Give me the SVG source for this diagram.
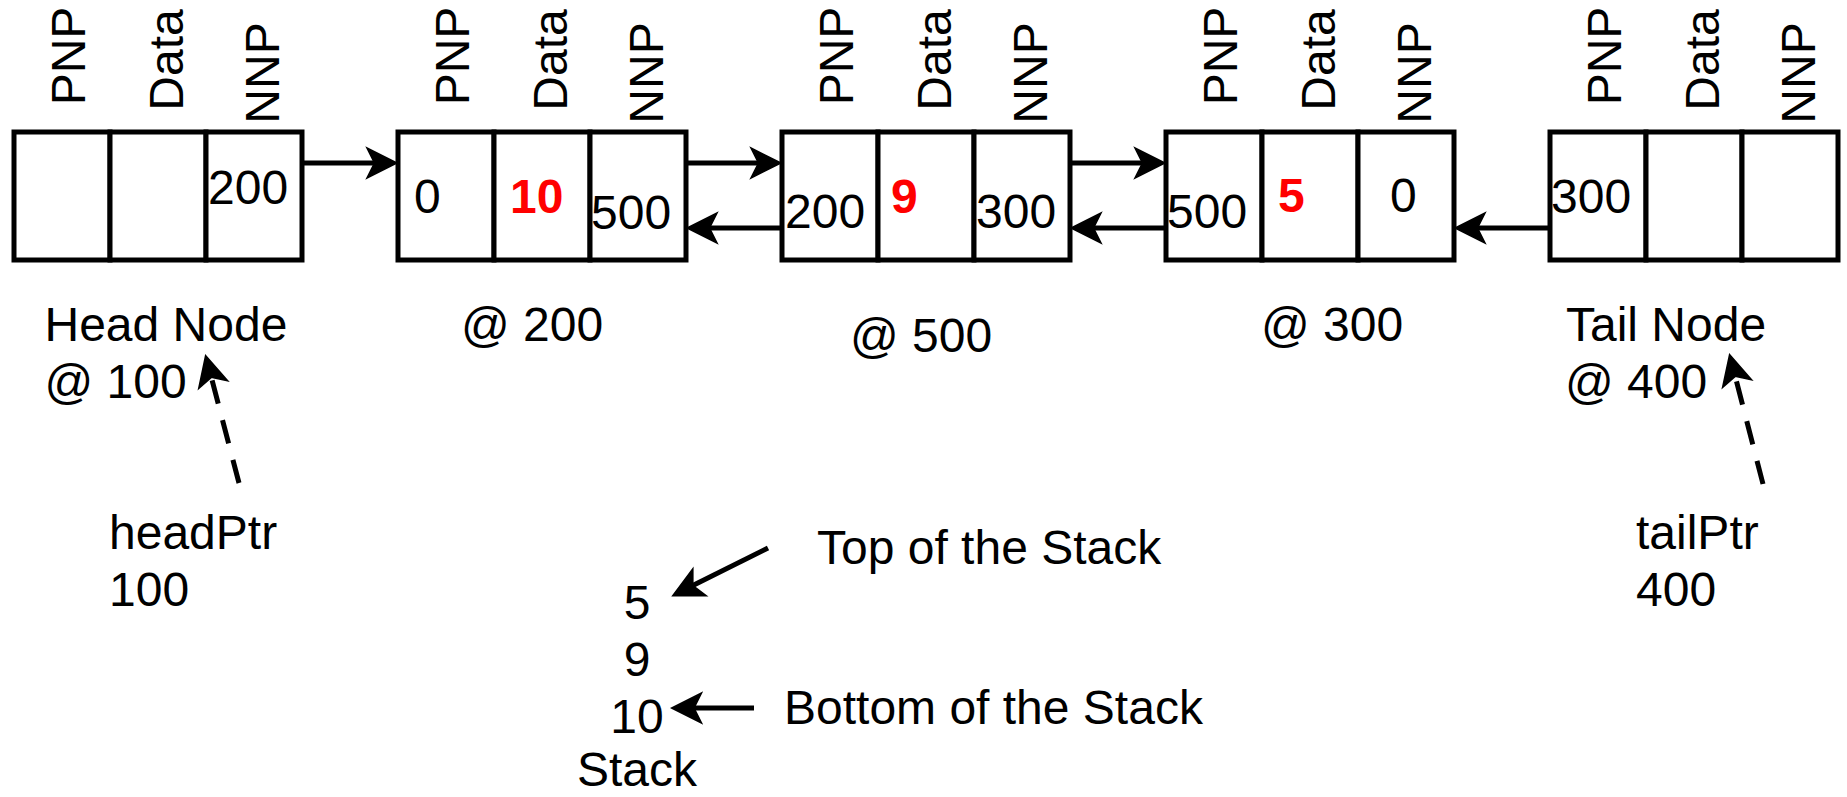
<svg xmlns="http://www.w3.org/2000/svg" width="1847" height="797" viewBox="0 0 1847 797">
  <style>
    text { font-family: "Liberation Sans", Arial, Helvetica, sans-serif; font-size: 48px; fill: #000000; }
    .val { fill: #FF0000; font-weight: bold; }
    .cell { fill: #FFFFFF; stroke: #000000; stroke-width: 5; }
    .edge { fill: none; stroke: #000000; stroke-width: 5; }
    .dash { stroke-dasharray: 24 17; }
  </style>
  <defs>
    <marker id="arrow" markerUnits="userSpaceOnUse" markerWidth="34" markerHeight="34" viewBox="-30 -16 32 32" refX="-21" refY="0" orient="auto">
      <path d="M0,0 L-28,-14 L-21,0 L-28,14 Z" fill="#000000" stroke="#000000" stroke-width="1.5" stroke-linejoin="miter"/>
    </marker>
  </defs>
  <rect width="1847" height="797" fill="#FFFFFF"/>

  <g id="node-head">
    <rect class="cell" x="14" y="132" width="96" height="128"/>
    <rect class="cell" x="110" y="132" width="96" height="128"/>
    <rect class="cell" x="206" y="132" width="96" height="128"/>
    <text transform="translate(85,56) rotate(-90)" text-anchor="middle">PNP</text>
    <text transform="translate(183,60) rotate(-90)" text-anchor="middle">Data</text>
    <text transform="translate(279,73) rotate(-90)" text-anchor="middle">NNP</text>
    <text x="208" y="204">200</text>
  </g>

  <g id="node-200">
    <rect class="cell" x="398" y="132" width="96" height="128"/>
    <rect class="cell" x="494" y="132" width="96" height="128"/>
    <rect class="cell" x="590" y="132" width="96" height="128"/>
    <text transform="translate(469,56) rotate(-90)" text-anchor="middle">PNP</text>
    <text transform="translate(567,60) rotate(-90)" text-anchor="middle">Data</text>
    <text transform="translate(663,73) rotate(-90)" text-anchor="middle">NNP</text>
    <text x="414" y="213">0</text>
    <text class="val" x="510" y="213">10</text>
    <text x="591" y="229">500</text>
  </g>

  <g id="node-500">
    <rect class="cell" x="782" y="132" width="96" height="128"/>
    <rect class="cell" x="878" y="132" width="96" height="128"/>
    <rect class="cell" x="974" y="132" width="96" height="128"/>
    <text transform="translate(853,56) rotate(-90)" text-anchor="middle">PNP</text>
    <text transform="translate(951,60) rotate(-90)" text-anchor="middle">Data</text>
    <text transform="translate(1047,73) rotate(-90)" text-anchor="middle">NNP</text>
    <text x="785" y="228">200</text>
    <text class="val" x="891" y="213">9</text>
    <text x="976" y="228">300</text>
  </g>

  <g id="node-300">
    <rect class="cell" x="1166" y="132" width="96" height="128"/>
    <rect class="cell" x="1262" y="132" width="96" height="128"/>
    <rect class="cell" x="1358" y="132" width="96" height="128"/>
    <text transform="translate(1237,56) rotate(-90)" text-anchor="middle">PNP</text>
    <text transform="translate(1335,60) rotate(-90)" text-anchor="middle">Data</text>
    <text transform="translate(1431,73) rotate(-90)" text-anchor="middle">NNP</text>
    <text x="1167" y="228">500</text>
    <text class="val" x="1278" y="212">5</text>
    <text x="1390" y="212">0</text>
  </g>

  <g id="node-tail">
    <rect class="cell" x="1550" y="132" width="96" height="128"/>
    <rect class="cell" x="1646" y="132" width="96" height="128"/>
    <rect class="cell" x="1742" y="132" width="96" height="128"/>
    <text transform="translate(1621,56) rotate(-90)" text-anchor="middle">PNP</text>
    <text transform="translate(1719,60) rotate(-90)" text-anchor="middle">Data</text>
    <text transform="translate(1815,73) rotate(-90)" text-anchor="middle">NNP</text>
    <text x="1551" y="213">300</text>
  </g>

  <g id="label-head">
    <text x="44.5" y="341">Head Node</text>
    <text x="44.5" y="398">@ 100</text>
  </g>
  <g id="label-200"><text x="461" y="341">@ 200</text></g>
  <g id="label-500"><text x="850" y="352">@ 500</text></g>
  <g id="label-300"><text x="1261" y="341">@ 300</text></g>
  <g id="label-tail">
    <text x="1566" y="341">Tail Node</text>
    <text x="1565" y="398">@ 400</text>
  </g>

  <g id="head-ptr">
    <text x="109" y="549">headPtr</text>
    <text x="109" y="606">100</text>
  </g>
  <g id="tail-ptr">
    <text x="1636" y="549">tailPtr</text>
    <text x="1636" y="606">400</text>
  </g>

  <g id="stack">
    <text x="637" y="619" text-anchor="middle">5</text>
    <text x="637" y="676" text-anchor="middle">9</text>
    <text x="637" y="733" text-anchor="middle">10</text>
    <text x="637" y="786" text-anchor="middle">Stack</text>
  </g>
  <g id="label-top"><text x="817" y="564">Top of the Stack</text></g>
  <g id="label-bottom"><text x="784" y="724">Bottom of the Stack</text></g>

  <g id="connectors">
    <path class="edge" d="M302,163 L374.5,163" marker-end="url(#arrow)"/>
    <path class="edge" d="M686,163 L758.5,163" marker-end="url(#arrow)"/>
    <path class="edge" d="M1070,163 L1142.5,163" marker-end="url(#arrow)"/>
    <path class="edge" d="M782,228 L709.5,228" marker-end="url(#arrow)"/>
    <path class="edge" d="M1166,228 L1093.5,228" marker-end="url(#arrow)"/>
    <path class="edge" d="M1550,228 L1477.5,228" marker-end="url(#arrow)"/>
    <path class="edge dash" d="M239,483 L211.3,377.3" marker-end="url(#arrow)"/>
    <path class="edge dash" d="M1763,484 L1735.2,376.3" marker-end="url(#arrow)"/>
    <path class="edge" d="M768,548 L692.8,585.6" marker-end="url(#arrow)"/>
    <path class="edge" d="M754,708 L694,708" marker-end="url(#arrow)"/>
  </g>
</svg>
